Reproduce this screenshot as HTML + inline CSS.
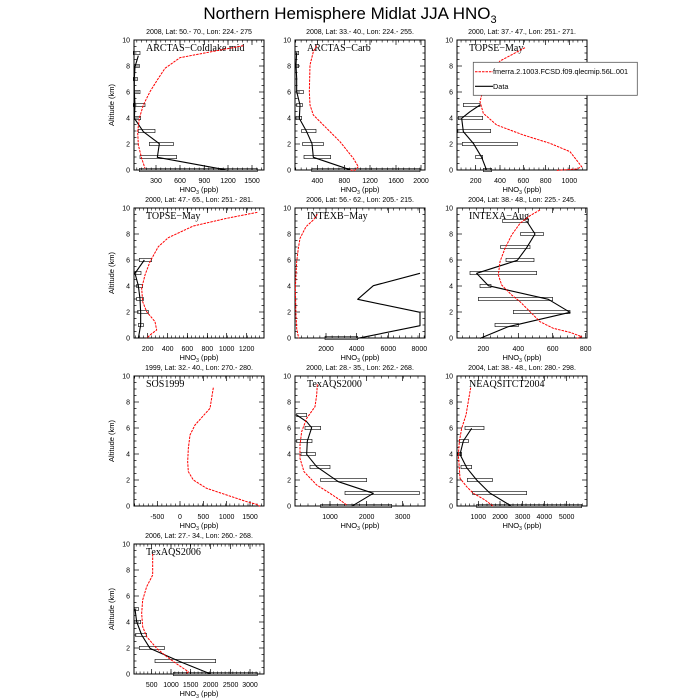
<!DOCTYPE html>
<html><head><meta charset="utf-8">
<style>
html,body{margin:0;padding:0;background:#fff;}
svg{display:block;font-family:"Liberation Sans",sans-serif;}
</style></head>
<body>
<svg id="s" width="700" height="700" xmlns="http://www.w3.org/2000/svg">
<rect width="700" height="700" fill="#fff"/>
<text x="350" y="19" font-size="17" text-anchor="middle">Northern Hemisphere Midlat JJA HNO<tspan font-size="11" dy="4">3</tspan></text>
</svg>
<script>
var s=document.getElementById('s');var NS='http://www.w3.org/2000/svg';
function el(t,a,txt){var e=document.createElementNS(NS,t);for(var k in a)e.setAttribute(k,a[k]);if(txt!==undefined)e.textContent=txt;s.appendChild(e);return e;}
var cols=[134,295,457],rows=[40,208,376,544];
function panel(o){
 var L=cols[o.c],T=rows[o.r],W=130,H=130;
 var ox=o.off[0],oy=o.off[1];
 function X(z){return z/3+ox;} function Y(z){return z/3+oy;}
 function altY(a){return T+H*(1-a/10);}
 // header
 el('text',{x:L+W/2,y:T-6,'font-size':7,'text-anchor':'middle'},o.hdr);
 // border
 el('rect',{x:L,y:T,width:W,height:H,fill:'none',stroke:'#000','stroke-width':1});
 // y ticks
 for(var a=0;a<=10;a+=0.5){var y=altY(a);var maj=(a%2==0);var len=maj?5:2.5;
  el('line',{x1:L,y1:y,x2:L+len,y2:y,stroke:'#000','stroke-width':0.7});
  el('line',{x1:L+W,y1:y,x2:L+W-len,y2:y,stroke:'#000','stroke-width':0.7});
  if(maj)el('text',{x:L-4,y:y+2.5,'font-size':7,'text-anchor':'end'},String(a));}
 // x ticks
 o.xt.forEach(function(t){var x=X(t[0]);
  el('line',{x1:x,y1:T+H,x2:x,y2:T+H-5,stroke:'#000','stroke-width':0.7});
  el('line',{x1:x,y1:T,x2:x,y2:T+5,stroke:'#000','stroke-width':0.7});
  el('text',{x:x,y:T+H+13,'font-size':7,'text-anchor':'middle'},t[1]);});
 if(o.xt.length>1){var d=(o.xt[1][0]-o.xt[0][0])/3/5;var x0=X(o.xt[0][0]);
  for(var x=x0-20*d;x<L+W;x+=d){if(x>L+0.5&&x<L+W-0.5){el('line',{x1:x,y1:T+H,x2:x,y2:T+H-2.5,stroke:'#000','stroke-width':0.6});el('line',{x1:x,y1:T,x2:x,y2:T+2.5,stroke:'#000','stroke-width':0.6});}}}
 // x title
 var t=el('text',{x:L+W/2,y:T+H+22,'font-size':7.5,'text-anchor':'middle'});
 t.innerHTML='HNO<tspan font-size="5" dy="2">3</tspan><tspan dy="-2"> (ppb)</tspan>';
 if(o.c==0){el('text',{x:0,y:0,'font-size':7.5,'text-anchor':'middle',transform:'translate('+(L-20)+','+(T+H/2)+') rotate(-90)'},'Altitude (km)');}
 // label
 el('text',{x:L+12,y:T+11,'font-size':10,'font-family':'"Liberation Serif",serif'},o.lab);
 // boxes
 (o.box||[]).forEach(function(b){var y=altY(b[0]);var x1=X(b[1]),x2=X(b[2]);
  el('rect',{x:x1,y:y-1.6,width:Math.max(x2-x1,1),height:3.2,fill:'none',stroke:'#000','stroke-width':0.6});});
 function pl(p,col,dash,w){return el('polyline',{points:p.map(function(q){return X(q[0])+','+Y(q[1]);}).join(' '),fill:'none',stroke:col,'stroke-width':w,'stroke-dasharray':dash||'none','stroke-linejoin':'round'});}
 if(o.blk)pl(o.blk,'#000',null,1.1);
 if(o.red)pl(o.red,'#f00','2.5,1',1);
}
var o1=[100,25],o2=[430,25],o3=[100,195],o4=[430,195],o5=[100,365],o6=[430,365],o7=[100,530];
panel({c:0,r:0,off:o1,hdr:'2008, Lat:  50.- 70., Lon: 224.- 275',lab:'ARCTAS\u2212Coldlake mid',
 xt:[[168,'300'],[240,'600'],[313,'900'],[384,'1200'],[456,'1500']],
 red:[[430,62],[240,98],[195,130],[175,160],[150,200],[130,240],[118,280],[113,320],[115,360],[125,400],[135,430]],
 blk:[[115,92],[105,125],[103,160],[103,200],[105,240],[103,280],[130,320],[178,356],[172,397],[385,436]],
 box:[[9,100,120],[8,103,118],[7,100,112],[6,103,120],[5,100,135],[4,103,122],[3,115,165],[2,148,220],[1,120,230],[0,118,472]]});
panel({c:1,r:0,off:o1,hdr:'2008, Lat:  33.- 40., Lon: 224.- 255.',lab:'ARCTAS\u2212Carb',
 xt:[[652,'400'],[733,'800'],[810,'1200'],[888,'1600'],[963,'2000']],
 red:[[650,62],[640,80],[630,120],[628,200],[630,240],[640,270],[670,300],[720,350],[760,400],[775,425],[765,436],[750,435]],
 blk:[[590,82],[588,120],[590,160],[590,200],[600,240],[598,280],[620,320],[636,356],[640,397],[755,436]],
 box:[[9,586,596],[8,586,596],[6,590,610],[5,590,607],[4,588,605],[3,605,648],[2,608,670],[1,612,692],[0,635,960]]});
panel({c:2,r:0,off:o2,hdr:'2000, Lat:  37.- 47., Lon: 251.- 271.',lab:'TOPSE\u2212May',
 xt:[[137,'200'],[210,'400'],[280,'600'],[347,'800'],[418,'1000']],
 red:[[285,68],[210,108],[180,150],[160,190],[150,230],[160,265],[200,300],[280,330],[360,355],[420,380],[455,425],[440,432],[380,436]],
 blk:[[150,240],[120,260],[95,280],[100,320],[130,355],[155,397],[170,436]],
 box:[[5,100,150],[4,85,158],[3,83,182],[2,97,262],[1,137,158],[0,160,185]]});
panel({c:0,r:1,off:o3,hdr:'2000, Lat:  47.- 65., Lon: 251.- 281.',lab:'TOPSE\u2212May',
 xt:[[143,'200'],[203,'400'],[262,'600'],[322,'800'],[380,'1000'],[440,'1200']],
 red:[[472,52],[380,70],[280,93],[205,128],[175,155],[150,200],[135,240],[125,280],[128,320],[140,350],[165,380],[170,405],[150,420],[140,430]],
 blk:[[133,195],[105,235],[115,272],[120,312],[122,352],[122,390],[115,430]],
 box:[[6,118,155],[5,105,123],[4,110,128],[3,110,130],[2,113,145],[1,115,130]]});
panel({c:1,r:1,off:o3,hdr:'2006, Lat:  56.- 62., Lon: 205.- 215.',lab:'INTEXB\u2212May',
 xt:[[678,'2000'],[770,'4000'],[865,'6000'],[958,'8000']],
 red:[[652,58],[640,75],[618,95],[600,130],[595,160],[590,200],[588,240],[586,280],[587,320],[588,360],[590,400],[596,430]],
 blk:[[773,430],[960,392],[960,352],[773,313],[820,272],[960,235]],
 box:[[0,675,773]]});
panel({c:2,r:1,off:o4,hdr:'2004, Lat:  38.- 48., Lon: 225.- 245.',lab:'INTEXA\u2212Aug',
 xt:[[160,'200'],[265,'400'],[368,'600'],[467,'800']],
 red:[[330,45],[300,62],[270,85],[245,120],[225,160],[210,200],[205,240],[215,270],[245,300],[270,320],[300,350],[330,380],[370,400],[420,412],[455,425],[440,430]],
 blk:[[150,430],[235,395],[420,352],[355,313],[175,272],[140,235],[262,196],[290,158],[315,117],[290,78]],
 box:[[9,218,295],[8,272,340],[7,212,300],[6,228,312],[5,120,320],[4,150,183],[3,145,368],[2,250,420],[1,195,265]]});
panel({c:0,r:2,off:o5,hdr:'1999, Lat:  32.- 40., Lon: 270.- 280.',lab:'SOS1999',
 xt:[[172,'-500'],[240,'0'],[310,'500'],[380,'1000'],[450,'1500']],
 red:[[340,68],[330,130],[285,180],[270,210],[265,250],[263,290],[265,320],[280,345],[320,370],[380,390],[440,410],[470,418],[480,424]]});
panel({c:1,r:2,off:o5,hdr:'2000, Lat:  28.- 35., Lon: 262.- 268.',lab:'TexAQS2000',
 xt:[[690,'1000'],[800,'2000'],[908,'3000']],
 red:[[652,58],[650,90],[645,125],[620,160],[605,200],[600,240],[600,280],[612,320],[650,360],[690,385],[720,405],[740,420]],
 blk:[[590,150],[620,170],[635,188],[622,228],[620,268],[650,305],[715,350],[820,385],[755,424]],
 box:[[7,590,620],[6,615,662],[5,590,636],[4,603,646],[3,630,690],[2,662,800],[1,735,958],[0,662,875]]});
panel({c:2,r:2,off:o6,hdr:'2004, Lat:  38.- 48., Lon: 280.- 298.',lab:'NEAQSITCT2004',
 xt:[[145,'1000'],[210,'2000'],[278,'3000'],[343,'4000'],[410,'5000']],
 red:[[122,68],[108,150],[95,190],[88,230],[85,270],[88,310],[90,340],[110,365],[130,385],[165,405],[190,424]],
 blk:[[125,190],[100,228],[90,268],[110,308],[140,345],[178,383],[245,424]],
 box:[[6,105,162],[5,88,115],[4,83,95],[3,93,125],[2,112,187],[1,128,290],[0,140,455]]});
panel({c:0,r:3,off:o7,hdr:'2006, Lat:  27.- 34., Lon: 260.- 268.',lab:'TexAQS2006',
 xt:[[155,'500'],[213,'1000'],[272,'1500'],[332,'2000'],[392,'2500'],[450,'3000']],
 red:[[158,72],[158,135],[140,170],[128,210],[125,250],[128,290],[140,320],[170,355],[200,380],[235,405],[265,425],[258,432]],
 blk:[[105,237],[110,275],[125,315],[150,355],[240,395],[332,432]],
 box:[[5,103,115],[4,103,122],[3,107,140],[2,118,193],[1,165,347],[0,220,472]]});
// legend
el('rect',{x:473.3,y:62.3,width:164,height:33,fill:'#fff',stroke:'#555','stroke-width':0.8});
el('line',{x1:475,y1:71.7,x2:493,y2:71.7,stroke:'#f00','stroke-width':1,'stroke-dasharray':'2.5,1'});
el('text',{x:493,y:74.2,'font-size':7.3},'fmerra.2.1003.FCSD.f09.qlecmip.56L.001');
el('line',{x1:475,y1:86.3,x2:493,y2:86.3,stroke:'#000','stroke-width':1.1});
el('text',{x:493,y:88.8,'font-size':7.3},'Data');
</script>
</body></html>
